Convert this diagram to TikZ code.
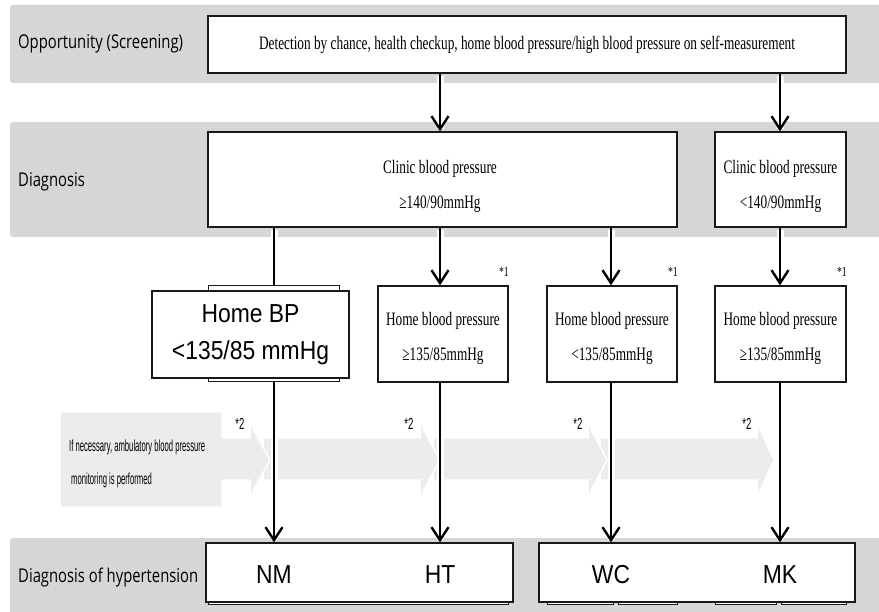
\documentclass[tikz,border=0pt]{standalone}
\usepackage{fontspec}
\usetikzlibrary{arrows.meta}
\newfontfamily\serifc[FakeStretch=0.70]{Liberation Serif}
\newfontfamily\bandf[FakeStretch=0.78]{Open Sans}
\newfontfamily\arialc[FakeStretch=0.88]{Liberation Sans}
\newfontfamily\futc[FakeStretch=0.48]{Liberation Sans}
\newfontfamily\futd[FakeStretch=0.6]{Liberation Sans}
\definecolor{bandgray}{RGB}{213,214,216}
\definecolor{arrgray}{RGB}{235,236,237}
\definecolor{boxline}{RGB}{25,25,25}
\tikzset{
  band/.style={fill=bandgray, draw=none, rounded corners=3pt},
  bandlabel/.style={anchor=west, inner sep=0pt, font=\bandf\fontsize{19}{22}\selectfont},
  wbox/.style={draw=boxline, line width=1.3pt, fill=white, inner sep=0pt, align=center},
  backbox/.style={draw=boxline, line width=1pt, fill=white, inner sep=0pt},
  serift/.style={font=\serifc\fontsize{19}{35}\selectfont},
  boxtext/.style={serift, align=center, inner sep=0pt},
  ariallab/.style={font=\arialc\fontsize{26}{37}\selectfont, inner sep=0pt},
  conn/.style={line width=2.4pt, preaction={draw=white, line width=7pt, -, shorten <=2pt, shorten >=2pt}},
  arr/.style={conn, -{Straight Barb[length=13pt,width=17pt]}},
  garrow/.style={fill=arrgray, draw=white, line width=1.5pt},
  note/.style={inner sep=0pt, font=\serifc\fontsize{14}{14}\selectfont},
  note2/.style={inner sep=0pt, font=\futd\fontsize{16}{16}\selectfont},
}
\begin{document}
\begin{tikzpicture}[x=1pt,y=-1pt]
\useasboundingbox (0,0) rectangle (879,612);
\fill[white] (0,0) rectangle (879,612);
% bands
\path[band] (10,5) rectangle (885,83);
\path[band] (10,122) rectangle (885,237);
\path[band] (10,538) rectangle (885,620);
\node[bandlabel] (l1) at (18,44) {Opportunity (Screening)};
\node[bandlabel] (l2) at (18,182) {Diagnosis};
\node[bandlabel] (l3) at (18,578) {Diagnosis of hypertension};
% gray process arrows
\path[garrow] (600,438) -- (757,438) -- (757,423) -- (774,460) -- (757,497) -- (757,480) -- (600,480) -- cycle;
\path[garrow] (433,438) -- (588,438) -- (588,423) -- (607,460) -- (588,497) -- (588,480) -- (433,480) -- cycle;
\path[garrow] (263,438) -- (420,438) -- (420,423) -- (440,460) -- (420,497) -- (420,480) -- (263,480) -- cycle;
\path[garrow] (60,412) -- (222,412) -- (222,438) -- (250,438) -- (250,423) -- (270,460) -- (250,497) -- (250,480) -- (222,480) -- (222,507) -- (60,507) -- cycle;
\node[anchor=north west, align=left, inner sep=0pt, font=\futc\fontsize{16}{33}\selectfont] (amb) at (69,440) {If necessary, ambulatory blood pressure\\\hspace{2pt}monitoring is performed};
\node[note2] (s21) at (240,424) {*2};
\node[note2] (s22) at (409,424) {*2};
\node[note2] (s23) at (578,424) {*2};
\node[note2] (s24) at (747,424) {*2};
% top box
\node[wbox, serift, minimum width=638pt, minimum height=57pt] (det) at (527,44.5) {Detection by chance, health checkup, home blood pressure/high blood pressure on self-measurement};
% clinic boxes
\node[wbox, minimum width=469pt, minimum height=95pt] (c1) at (442.5,179.5) {};
\node[boxtext] (c1t) at (440,186) {Clinic blood pressure\\≥140/90mmHg};
\node[wbox, minimum width=131pt, minimum height=95pt] (c2) at (780.5,179.5) {};
\node[boxtext] (c2t) at (780.5,186) {Clinic blood pressure\\<140/90mmHg};
% home boxes
\node[backbox, minimum width=131pt, minimum height=96pt] (hbpb) at (273.5,334) {};
\node[wbox, ariallab, minimum width=197pt, minimum height=87pt] (hbp) at (250.5,334.5) {Home BP\\<135/85 mmHg};
\node[wbox, minimum width=130pt, minimum height=96pt] (h1) at (443,334) {};
\node[boxtext] (h1t) at (443,338) {Home blood pressure\\≥135/85mmHg};
\node[wbox, minimum width=130pt, minimum height=96pt] (h2) at (612,334) {};
\node[boxtext] (h2t) at (612,338) {Home blood pressure\\<135/85mmHg};
\node[wbox, minimum width=131pt, minimum height=96pt] (h3) at (780.5,334) {};
\node[boxtext] (h3t) at (780.5,338) {Home blood pressure\\≥135/85mmHg};
\node[note, anchor=east] (s11) at (509,272) {*1};
\node[note, anchor=east] (s12) at (678,272) {*1};
\node[note, anchor=east] (s13) at (847,272) {*1};
% outcome boxes
\node[backbox, minimum width=300pt, minimum height=59pt] (o1b) at (358,575) {};
\node[backbox, minimum width=66pt, minimum height=59pt] (o2b1) at (580,575) {};
\node[backbox, minimum width=59pt, minimum height=59pt] (o2b2) at (647.5,575) {};
\node[backbox, minimum width=61pt, minimum height=59pt] (o2b3) at (745.5,575) {};
\node[backbox, minimum width=65pt, minimum height=59pt] (o2b4) at (813.5,575) {};
\node[wbox, minimum width=307pt, minimum height=59pt] (o1) at (359.5,572.5) {};
\node[wbox, minimum width=316pt, minimum height=59pt] (o2) at (697,572.5) {};
\node[ariallab] (nm) at (274,575) {NM};
\node[ariallab] (ht) at (440,575) {HT};
\node[ariallab] (wc) at (611,575) {WC};
\node[ariallab] (mk) at (780,575) {MK};
% connectors
\draw[arr] (det.south -| ht) -- (c1.north -| ht);
\draw[arr] (det.south -| mk) -- (c2.north -| mk);
\draw[conn] (c1.south -| nm) -- (hbpb.north -| nm);
\draw[arr] (c1.south -| ht) -- (h1.north -| ht);
\draw[arr] (c1.south -| wc) -- (h2.north -| wc);
\draw[arr] (c2.south -| mk) -- (h3.north -| mk);
\draw[arr] (hbpb.south -| nm) -- (o1.north -| nm);
\draw[arr] (h1.south -| ht) -- (o1.north -| ht);
\draw[arr] (h2.south -| wc) -- (o2.north -| wc);
\draw[arr] (h3.south -| mk) -- (o2.north -| mk);
\end{tikzpicture}
\end{document}
